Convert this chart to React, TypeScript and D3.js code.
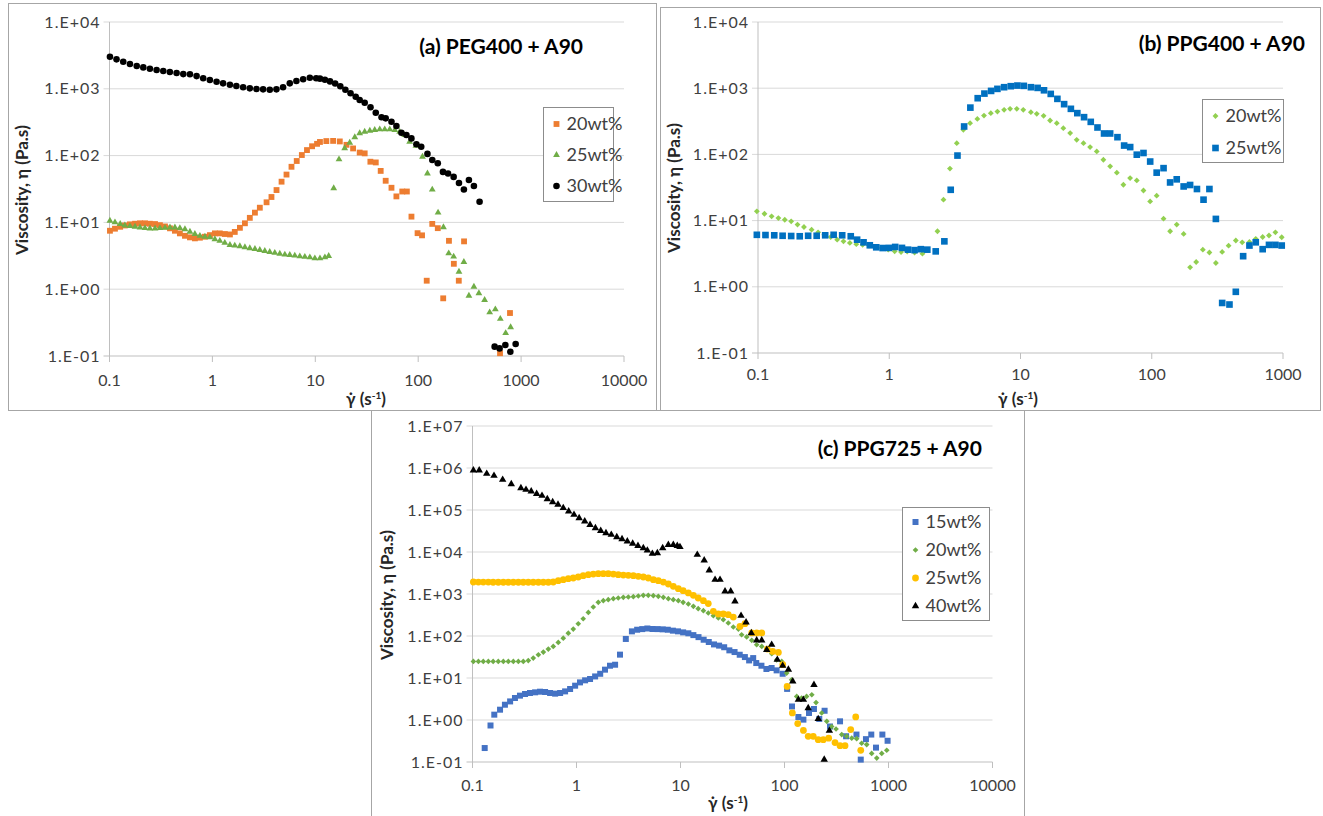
import React from "react";
import * as d3 from "d3";

type Pt = [number, number];

// tick values
const xTicksWide = [0.1, 1, 10, 100, 1000, 10000];
const xTicksB = [0.1, 1, 10, 100, 1000];
const yTicksAB = [0.1, 1, 10, 100, 1000, 10000];
const yTicksC = [0.1, 1, 10, 100, 1000, 1e4, 1e5, 1e6, 1e7];

// (a) PEG400 + A90  [shear rate, viscosity]
const pegA20: Pt[] = [
  [0.101, 7.5], [0.113, 8.05], [0.127, 8.6], [0.141, 9.0], [0.158, 9.35], [0.177, 9.55], [0.198, 9.7],
  [0.221, 9.7], [0.247, 9.55], [0.277, 9.45], [0.309, 9.1], [0.346, 8.7], [0.387, 8.15], [0.432, 7.5],
  [0.483, 6.85], [0.541, 6.3], [0.605, 5.97], [0.676, 5.77], [0.756, 5.9], [0.846, 6.1], [0.946, 6.45],
  [1.057, 6.85], [1.18, 6.85], [1.32, 6.7], [1.48, 6.6], [1.65, 7.2], [1.85, 8.3], [2.07, 9.7],
  [2.31, 11.7], [2.59, 14], [2.89, 16.6], [3.36, 20], [3.75, 24], [4.2, 30.5], [4.7, 40.7], [5.25, 52],
  [5.87, 68], [6.6, 83], [7.4, 102], [8.3, 121], [9.3, 138], [10.4, 150], [11.1, 160], [12.8, 165],
  [14.9, 166], [17.3, 163], [20.1, 145], [23.3, 128], [27, 111], [30.2, 108], [34.3, 81], [38.7, 79],
  [43.2, 59], [48.3, 42], [55, 33], [61.4, 24.5], [70, 29], [77.6, 29], [86, 12.2], [98.6, 6.9],
  [109, 6.4], [121, 1.34], [137, 9.5], [155, 8.2], [175, 0.73], [199, 5.3], [222, 2.4], [248, 1.34],
  [279, 5.2], [624, 0.11], [780, 0.44],
];
const pegA25: Pt[] = [
  [0.101, 10.6], [0.113, 10.0], [0.127, 9.45], [0.141, 9.0], [0.158, 8.8], [0.177, 8.6], [0.198, 8.4],
  [0.221, 8.2], [0.247, 8.1], [0.277, 8.1], [0.309, 8.2], [0.346, 8.3], [0.387, 8.4], [0.432, 8.4],
  [0.483, 8.2], [0.541, 7.9], [0.605, 7.25], [0.676, 6.7], [0.756, 6.3], [0.846, 6.1], [0.946, 5.97],
  [1.057, 5.6], [1.18, 5.3], [1.32, 4.95], [1.48, 4.6], [1.65, 4.5], [1.85, 4.4], [2.07, 4.24],
  [2.31, 4.1], [2.59, 4.0], [2.89, 3.87], [3.23, 3.74], [3.61, 3.6], [4.04, 3.5], [4.52, 3.4],
  [5.06, 3.3], [5.65, 3.25], [6.32, 3.18], [7.07, 3.1], [7.91, 3.05], [8.85, 3.0], [9.9, 2.9],
  [11.1, 2.9], [12.4, 3.0], [13.5, 3.14],
  [15.1, 32.5], [17, 88], [19.3, 129], [21.6, 156], [24.2, 188], [27, 216], [30.2, 228], [33.9, 236],
  [37.8, 242], [42.3, 247], [47.3, 247], [52.9, 247], [59.2, 242], [66.1, 228], [74, 203], [82.6, 161],
  [95, 140], [110, 96], [123, 54], [137, 31], [156, 14], [176, 8.45], [198, 3.44], [221, 3.07],
  [249, 1.83], [278, 2.55], [311, 0.8], [348, 1.09], [389, 0.87], [442, 0.69], [495, 0.45], [562, 0.5],
  [628, 0.36], [708, 0.22], [791, 0.27],
];
const pegA30: Pt[] = [
  [0.101, 3020], [0.117, 2760], [0.136, 2545], [0.158, 2350], [0.184, 2190], [0.213, 2090], [0.247, 1995],
  [0.287, 1910], [0.333, 1845], [0.386, 1780], [0.449, 1720], [0.521, 1660], [0.605, 1650], [0.702, 1550],
  [0.814, 1435], [0.945, 1355], [1.098, 1277], [1.27, 1207], [1.48, 1150], [1.71, 1100], [1.99, 1052],
  [2.31, 1016], [2.68, 993], [3.11, 981], [3.61, 970], [4.19, 981], [4.86, 1052], [5.65, 1207],
  [6.55, 1310], [7.62, 1388], [8.85, 1466], [10.2, 1435], [11.1, 1420], [12.4, 1370], [13.9, 1290],
  [15.6, 1200], [17.5, 1090], [19.6, 970], [22, 860], [24.7, 760], [27, 680], [30.2, 620], [34.4, 528],
  [38.7, 439], [44, 374], [48.3, 361], [55, 322], [61.4, 277], [68.7, 220], [76.8, 203], [85.9, 181],
  [96.1, 148], [107, 136], [123, 106], [137, 86], [155, 77], [174, 57], [195, 54], [221, 48], [249, 39],
  [278, 31], [311, 43], [348, 35], [395, 20.4], [553, 0.138], [618, 0.13], [703, 0.146], [786, 0.116],
  [885, 0.151],
];

// (b) PPG400 + A90
const ppgB20: Pt[] = [
  [0.098, 13.8], [0.112, 12.7], [0.127, 11.6], [0.143, 10.9], [0.16, 10.3], [0.179, 9.75], [0.2, 8.7],
  [0.224, 8.0], [0.256, 7.3], [0.287, 6.65], [0.32, 6.1], [0.358, 5.65], [0.401, 5.15], [0.448, 4.86],
  [0.501, 4.6], [0.561, 4.4], [0.627, 4.3], [0.701, 4.2], [0.785, 4.0], [0.878, 3.87], [0.982, 3.64],
  [1.1, 3.43], [1.23, 3.35], [1.37, 3.4], [1.56, 3.3], [1.79, 3.17], [2.33, 6.9], [2.59, 20.7],
  [2.9, 61], [3.27, 148], [3.67, 235], [4.13, 296], [4.69, 344], [5.27, 386], [5.94, 420], [6.67, 444],
  [7.5, 471], [8.33, 488], [9.37, 488], [10.5, 471], [12, 435], [13.3, 410], [15, 382], [16.8, 325],
  [18.9, 296], [21.2, 249], [23.9, 210], [26.8, 166], [30.2, 148], [33.9, 129], [38.1, 111], [42.8, 83],
  [48.2, 66], [54.2, 53], [60.8, 34.8], [68.4, 43.9], [76.9, 40.4], [86.5, 28.5], [97.2, 19.5],
  [109, 23.8], [123, 10.7], [138, 6.9], [155, 8.7], [175, 6.3], [196, 1.97], [218, 2.37], [245, 3.64],
  [275, 3.3], [308, 2.29], [344, 3.36], [385, 4.18], [437, 5.0], [489, 4.7], [555, 4.75], [620, 5.3],
  [700, 5.65], [782, 5.95], [875, 6.65], [978, 5.6],
];
const ppgB25: Pt[] = [
  [0.098, 6.1], [0.114, 6.05], [0.133, 6.0], [0.154, 5.9], [0.179, 5.85], [0.208, 5.8], [0.241, 5.9],
  [0.28, 5.9], [0.325, 6.0], [0.377, 6.1], [0.438, 6.0], [0.509, 5.8], [0.569, 5.15], [0.637, 4.7],
  [0.711, 4.24], [0.796, 3.95], [0.891, 3.85], [0.996, 3.87], [1.11, 4.0], [1.25, 3.87], [1.39, 3.64],
  [1.56, 3.58], [1.74, 3.7], [1.95, 3.64], [2.26, 3.43], [2.63, 4.86], [2.94, 29.2], [3.31, 96],
  [3.72, 264], [4.15, 509], [4.72, 706], [5.31, 829], [5.97, 910], [6.67, 977], [7.5, 1035], [8.43, 1072],
  [9.47, 1096], [10.6, 1085], [12, 1035], [13.5, 1011], [15.1, 930], [17, 820], [19.1, 690], [21.5, 574],
  [24.2, 488], [27.1, 420], [30.5, 365], [34.3, 310], [38.6, 255], [43.3, 207], [48.2, 207], [54.8, 182],
  [61.6, 136], [68.5, 129], [76.9, 99], [86.5, 105], [97.3, 78], [109, 53], [123, 62], [138, 37.7],
  [155, 42], [175, 32.8], [196, 34.5], [221, 30], [248, 20.7], [275, 30], [308, 10.6], [344, 0.57],
  [391, 0.54], [437, 0.84], [497, 2.9], [555, 4.2], [620, 4.7], [700, 3.7], [782, 4.3], [875, 4.3],
  [978, 4.2],
];

// (c) PPG725 + A90
const ppgC15: Pt[] = [
  [0.131, 0.215], [0.149, 0.74], [0.162, 1.34], [0.184, 1.76], [0.205, 2.31], [0.23, 2.77], [0.256, 3.34],
  [0.286, 3.8], [0.32, 4.16], [0.357, 4.4], [0.4, 4.56], [0.446, 4.72], [0.499, 4.64], [0.557, 4.4],
  [0.623, 4.24], [0.696, 4.4], [0.777, 4.8], [0.868, 5.47], [0.97, 6.56], [1.08, 7.86], [1.21, 8.8],
  [1.35, 9.46], [1.51, 10.9], [1.69, 12.6], [1.88, 15.8], [2.1, 19.6], [2.35, 20.7], [2.62, 36],
  [2.98, 85], [3.41, 129], [3.83, 141], [4.29, 146], [4.8, 151], [5.38, 147], [6.02, 146], [6.74, 144],
  [7.55, 141], [8.45, 134], [9.46, 129], [10.6, 122], [11.9, 116], [13.3, 105], [14.9, 94], [16.7, 81.5],
  [18.7, 72], [21, 63], [23.5, 59], [26.3, 54], [29.5, 45.5], [33.1, 41.5], [37.1, 35.8], [41.6, 31.5],
  [45.7, 26.2], [50, 29.8], [53.5, 22.7], [60, 19.6], [67, 16.4], [75.2, 17.3], [84, 15.2], [96, 12.6],
  [106, 5.5], [118, 2.1], [136, 1.18], [152, 1.02], [172, 1.47], [192, 1.83], [216, 1.06], [243, 1.66],
  [274, 0.7], [342, 0.93], [391, 0.41], [492, 0.45], [541, 0.114], [607, 0.35], [683, 0.45], [758, 0.22],
  [873, 0.45], [980, 0.32],
];
const ppgC20: Pt[] = [
  [0.102, 24.8], [0.114, 24.8], [0.127, 24.8], [0.142, 24.8], [0.158, 24.8], [0.177, 24.8], [0.198, 24.8],
  [0.221, 24.8], [0.247, 24.8], [0.276, 24.8], [0.308, 24.8], [0.344, 26], [0.384, 29.8], [0.43, 35.8],
  [0.48, 41.4], [0.536, 48.8], [0.598, 56.5], [0.668, 70.5], [0.746, 89], [0.834, 117], [0.931, 146],
  [1.04, 196], [1.16, 258], [1.3, 365], [1.45, 490], [1.62, 632], [1.81, 693], [2.02, 733], [2.26, 774],
  [2.52, 803], [2.82, 834], [3.15, 849], [3.52, 865], [3.93, 896], [4.39, 929], [4.9, 929], [5.48, 912],
  [6.12, 880], [6.84, 834], [7.64, 774], [8.53, 733], [9.53, 693], [10.6, 632], [11.9, 578], [13.3, 508],
  [14.8, 447], [16.6, 401], [18.5, 353], [20.7, 305], [23.1, 268], [25.8, 245], [28.8, 204], [32.2, 164],
  [36, 146], [38.7, 107], [43.3, 95], [48.4, 79], [54, 62], [60.4, 56.5], [67.5, 49], [75.4, 38], [84, 27],
  [94, 24.8], [105, 13.1], [117, 9.1], [131, 3.65], [146, 3.34], [163, 3.65], [183, 4.0], [201, 2.6],
  [228, 1.47], [255, 0.93], [284, 0.7], [313, 0.61], [355, 0.45], [396, 0.41], [443, 0.37], [494, 0.36],
  [552, 0.28], [617, 0.26], [689, 0.16], [771, 0.124], [861, 0.16], [962, 0.19],
];
const ppgC25: Pt[] = [
  [0.102, 1930], [0.114, 1920], [0.127, 1920], [0.142, 1920], [0.158, 1905], [0.177, 1905], [0.198, 1905],
  [0.221, 1905], [0.247, 1905], [0.276, 1905], [0.308, 1905], [0.344, 1905], [0.384, 1905], [0.43, 1905],
  [0.48, 1905], [0.536, 1905], [0.598, 1930], [0.668, 2075], [0.746, 2190], [0.834, 2315], [0.931, 2405],
  [1.04, 2540], [1.16, 2730], [1.3, 2880], [1.45, 2990], [1.62, 3045], [1.81, 3045], [2.02, 3045],
  [2.26, 2990], [2.52, 2880], [2.82, 2830], [3.15, 2780], [3.52, 2730], [3.93, 2630], [4.39, 2540],
  [4.9, 2405], [5.48, 2190], [6.12, 2075], [6.84, 1920], [7.64, 1730], [8.53, 1523], [9.53, 1340],
  [10.6, 1200], [11.9, 1057], [13.3, 929], [14.8, 803], [16.6, 693], [18.5, 590], [20.7, 386], [23.1, 334],
  [25.8, 334], [28.8, 322], [32.2, 283], [37.3, 169], [41.7, 196], [48.4, 118], [54, 118], [60.4, 118],
  [68.4, 49], [77, 43], [87.3, 40.7], [96.2, 20.7], [106, 6.3], [119, 1.47], [134, 0.82], [152, 0.565],
  [169, 0.41], [189, 0.41], [211, 0.34], [236, 0.34], [266, 0.37], [306, 0.29], [342, 0.244], [382, 0.244],
  [433, 0.59], [484, 1.18], [541, 0.19],
];
const ppgC40: Pt[] = [
  [0.102, 877000], [0.116, 877000], [0.137, 731000], [0.161, 656000], [0.195, 526000], [0.236, 416000],
  [0.292, 334000], [0.327, 304000], [0.367, 277000], [0.414, 244000], [0.466, 219000], [0.524, 183000],
  [0.59, 155000], [0.664, 134000], [0.746, 112000], [0.841, 92700], [0.946, 77300], [1.06, 64400],
  [1.2, 53600], [1.35, 44600], [1.52, 37200], [1.71, 32100], [1.92, 28300], [2.16, 25800], [2.44, 22700],
  [2.74, 20400], [3.08, 17900], [3.47, 15800], [3.9, 14100], [4.39, 12400], [4.8, 10900], [5.36, 9100],
  [5.99, 9460], [6.74, 12400], [7.64, 14900], [8.53, 14900], [9.31, 14100], [9.88, 13200], [14.5, 8630],
  [16.9, 6310], [18.9, 3650], [21.5, 2190], [24, 2190], [26.8, 1153], [30.4, 1153], [33.4, 667],
  [38.2, 304], [42.7, 211], [48, 118], [54, 78.5], [60.4, 78.5], [67.5, 47], [75.3, 62], [85.3, 27.3],
  [96, 19.6], [109, 15.8], [120, 8.3], [136, 3.04], [152, 3.04], [169, 1.93], [192, 6.9], [211, 1.06],
  [241, 0.114], [270, 0.556],
];

type Shape = "square" | "triangle" | "circle" | "diamond";
interface Series { name: string; color: string; shape: Shape; size: number; data: Pt[] }

const FONT = "Lato, 'Open Sans', 'DejaVu Sans', sans-serif";
const GRID = "#d9d9d9";

const symbolPath = (shape: Shape, size: number) => {
  const type =
    shape === "triangle" ? d3.symbolTriangle : shape === "circle" ? d3.symbolCircle : d3.symbolSquare;
  return d3.symbol().type(type).size(size)() || "";
};

const Marker = ({ s, x, y }: { s: Series; x: number; y: number }) => (
  <path
    d={symbolPath(s.shape, s.size)}
    fill={s.color}
    transform={`translate(${x},${y})${s.shape === "diamond" ? " rotate(45)" : ""}`}
  />
);

const fmtY = (v: number) => {
  const e = Math.round(Math.log10(v));
  return "1.E" + (e < 0 ? "-" : "+") + String(Math.abs(e)).padStart(2, "0");
};
const fmtX = (v: number) => (v < 1 ? "0.1" : String(v));

interface PanelProps {
  frame: [number, number, number, number];
  plot: { x0: number; x1: number; y0: number; y1: number };
  xDomain: [number, number];
  yDomain: [number, number];
  xTicks: number[];
  yTicks: number[];
  series: Series[];
  legend: { x: number; y: number; w: number; h: number; row0: number; gap: number };
  title: { text: string; x: number; y: number };
  yLabel: { x: number; y: number };
  xLabel: { x: number; y: number };
  xTickY: number;
}

const Panel = (p: PanelProps) => {
  const x = d3.scaleLog().domain(p.xDomain).range([p.plot.x0, p.plot.x1]);
  const y = d3.scaleLog().domain(p.yDomain).range([p.plot.y1, p.plot.y0]);
  const [fx, fy, fw, fh] = p.frame;
  return (
    <g>
      <rect x={fx} y={fy} width={fw} height={fh} fill="#fff" stroke="#a6a6a6" />
      {p.yTicks.map((t) => (
        <g key={"y" + t}>
          <line x1={p.plot.x0 - 6} x2={p.plot.x1} y1={y(t)} y2={y(t)} stroke={t === p.yDomain[0] ? "#bfbfbf" : GRID} />
          <text
            x={p.plot.x0 - 9}
            y={y(t)}
            dy="0.35em"
            textAnchor="end"
            fontSize={16}
            letterSpacing={1}
            fill="#404040"
          >
            {fmtY(t)}
          </text>
        </g>
      ))}
      <line x1={p.plot.x0} x2={p.plot.x0} y1={p.plot.y0} y2={p.plot.y1} stroke="#bfbfbf" />
      {p.xTicks.map((t) => (
        <g key={"x" + t}>
          <line x1={x(t)} x2={x(t)} y1={p.plot.y1} y2={p.plot.y1 + 6} stroke="#bfbfbf" />
          <text x={x(t)} y={p.xTickY} textAnchor="middle" fontSize={16} fill="#404040">
            {fmtX(t)}
          </text>
        </g>
      ))}
      {p.series.map((s) => (
        <g key={s.name}>
          {s.data.map((d, i) => (
            <Marker key={i} s={s} x={x(d[0])} y={y(d[1])} />
          ))}
        </g>
      ))}
      <text x={p.title.x} y={p.title.y} textAnchor="end" fontSize={21} fontWeight="bold" fill="#000">
        {p.title.text}
      </text>
      <rect x={p.legend.x} y={p.legend.y} width={p.legend.w} height={p.legend.h} fill="#fff" stroke="#8c8c8c" />
      {p.series.map((s, i) => {
        const ry = p.legend.row0 + i * p.legend.gap;
        return (
          <g key={"lg" + s.name}>
            <Marker s={s} x={p.legend.x + 13} y={ry} />
            <text x={p.legend.x + 23} y={ry} dy="0.35em" fontSize={18} fill="#404040">
              {s.name}
            </text>
          </g>
        );
      })}
      <text
        transform={`translate(${p.yLabel.x},${p.yLabel.y}) rotate(-90)`}
        textAnchor="middle"
        dy="0.35em"
        fontSize={17}
        fontWeight="bold"
        fill="#262626"
      >
        Viscosity, η (Pa.s)
      </text>
      <text x={p.xLabel.x} y={p.xLabel.y} textAnchor="middle" fontSize={17} fontWeight="bold" fill="#262626">
        γ̇ (s
        <tspan dy={-6} fontSize={10}>-1</tspan>
        <tspan dy={6}>)</tspan>
      </text>
    </g>
  );
};

export default function App() {
  const seriesA: Series[] = [
    { name: "20wt%", color: "#ed7d31", shape: "square", size: 34, data: pegA20 },
    { name: "25wt%", color: "#70ad47", shape: "triangle", size: 20, data: pegA25 },
    { name: "30wt%", color: "#000000", shape: "circle", size: 34, data: pegA30 },
  ];
  const seriesB: Series[] = [
    { name: "20wt%", color: "#92d050", shape: "diamond", size: 17, data: ppgB20 },
    { name: "25wt%", color: "#0070c0", shape: "square", size: 44, data: ppgB25 },
  ];
  const seriesC: Series[] = [
    { name: "15wt%", color: "#4472c4", shape: "square", size: 36, data: ppgC15 },
    { name: "20wt%", color: "#70ad47", shape: "diamond", size: 16, data: ppgC20 },
    { name: "25wt%", color: "#ffc000", shape: "circle", size: 36, data: ppgC25 },
    { name: "40wt%", color: "#000000", shape: "triangle", size: 24, data: ppgC40 },
  ];
  return (
    <svg
      width={1323}
      height={816}
      style={{ position: "absolute", left: 0, top: 0, background: "#fff", fontFamily: FONT }}
    >
      <Panel
        frame={[8.5, 3.5, 648, 407]}
        plot={{ x0: 109.5, x1: 624, y0: 22, y1: 356 }}
        xDomain={[0.1, 10000]}
        yDomain={[0.1, 10000]}
        xTicks={xTicksWide}
        yTicks={yTicksAB}
        series={seriesA}
        legend={{ x: 543.5, y: 107.5, w: 70, h: 94, row0: 124, gap: 31 }}
        title={{ text: "(a) PEG400 + A90", x: 583, y: 54 }}
        yLabel={{ x: 22, y: 190 }}
        xLabel={{ x: 366, y: 405 }}
        xTickY={386}
      />
      <Panel
        frame={[660.5, 7.5, 660, 403]}
        plot={{ x0: 758, x1: 1283, y0: 22, y1: 353 }}
        xDomain={[0.1, 1000]}
        yDomain={[0.1, 10000]}
        xTicks={xTicksB}
        yTicks={yTicksAB}
        series={seriesB}
        legend={{ x: 1202.5, y: 99.5, w: 81, h: 63, row0: 116, gap: 32 }}
        title={{ text: "(b) PPG400 + A90", x: 1305, y: 51 }}
        yLabel={{ x: 674, y: 188 }}
        xLabel={{ x: 1018, y: 405 }}
        xTickY={380}
      />
      <Panel
        frame={[371.5, 410.5, 653, 410]}
        plot={{ x0: 472.5, x1: 992.5, y0: 426, y1: 762 }}
        xDomain={[0.1, 10000]}
        yDomain={[0.1, 1e7]}
        xTicks={xTicksWide}
        yTicks={yTicksC}
        series={seriesC}
        legend={{ x: 902.5, y: 507.5, w: 87, h: 113, row0: 522, gap: 28 }}
        title={{ text: "(c) PPG725 + A90", x: 982, y: 456 }}
        yLabel={{ x: 387, y: 595 }}
        xLabel={{ x: 728, y: 809 }}
        xTickY={791}
      />
    </svg>
  );
}
